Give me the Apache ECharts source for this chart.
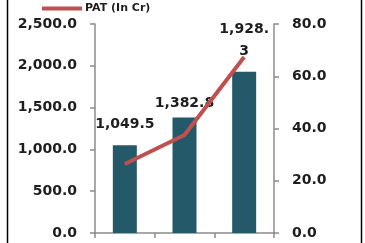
<!DOCTYPE html>
<html><head><meta charset="utf-8">
<script src="https://cdn.jsdelivr.net/npm/echarts@6/dist/echarts.min.js"></script>
<style>html,body{margin:0;padding:0;background:#fff}#c{width:365px;height:243px}</style>
</head><body><div id="c"></div>
<script>
const categories = ['FY1', 'FY2', 'FY3'];
const revenue = [1049.5, 1382.8, 1928.3];
const pat = [26.4, 37.5, 67.4];
const leftTicks = [0, 500, 1000, 1500, 2000, 2500];
const rightTicks = [0, 20, 40, 60, 80];

const chart = echarts.init(document.getElementById('c'), null, {renderer: 'canvas'});
const fmt = v => v.toLocaleString('en-US', {minimumFractionDigits: 1, maximumFractionDigits: 1});
const labelDist = [10, 3, 9];
const font = 'DejaVu Sans';
const tickLabel = {fontFamily: font, fontWeight: 'bold', fontSize: 14, color: '#1e1e1e', margin: 18};
chart.setOption({
  animation: false,
  legend: {
    data: ['PAT (In Cr)'], left: 37, top: -2, itemWidth: 40, itemHeight: 4, itemGap: 4,
    icon: 'rect',
    textStyle: {fontFamily: font, fontWeight: 'bold', fontSize: 11, color: '#1e1e1e', padding: [0,0,0,-2]}
  },
  graphic: [
    {type: 'line', shape: {x1: 7.5, y1: -5, x2: 7.5, y2: 250}, style: {stroke: '#000', lineWidth: 1.5}},
    {type: 'line', shape: {x1: 361.5, y1: -5, x2: 361.5, y2: 250}, style: {stroke: '#000', lineWidth: 1.5}}
  ],
  grid: {left: 95, right: 91, top: 24, bottom: 10, containLabel: false},
  xAxis: {
    type: 'category', data: categories,
    axisLine: {lineStyle: {color: '#8c8c8c', width: 1.5}},
    axisTick: {show: true, length: 5, alignWithLabel: false, lineStyle: {color: '#8c8c8c', width: 1.5}},
    axisLabel: {show: false}
  },
  yAxis: [
    {type: 'value', min: leftTicks[0], max: leftTicks[leftTicks.length-1], interval: 500,
     axisLine: {show: true, lineStyle: {color: '#8c8c8c', width: 1.5}},
     axisTick: {show: true, length: 5, lineStyle: {color: '#8c8c8c', width: 1.5}},
     splitLine: {show: false},
     axisLabel: Object.assign({formatter: v => fmt(v)}, tickLabel)},
    {type: 'value', min: rightTicks[0], max: rightTicks[rightTicks.length-1], interval: 20,
     axisLine: {show: true, lineStyle: {color: '#8c8c8c', width: 1.5}},
     axisTick: {show: true, length: 5, lineStyle: {color: '#8c8c8c', width: 1.5}},
     splitLine: {show: false},
     axisLabel: Object.assign({formatter: v => fmt(v)}, tickLabel)}
  ],
  series: [
    {name: 'Revenue', type: 'bar', barWidth: 24, yAxisIndex: 0,
     itemStyle: {color: '#235968'},
     data: revenue.map((v, i) => ({value: v, label: {distance: labelDist[i]}})),
     label: {show: true, position: 'top', fontFamily: font, fontWeight: 'bold', fontSize: 14,
       color: '#1e1e1e', lineHeight: 22,
       formatter: p => { const s = fmt(p.value); return p.dataIndex === 2 ? s.slice(0, -1) + '\n' + s.slice(-1) : s; }},
     z: 2},
    {name: 'PAT (In Cr)', type: 'line', yAxisIndex: 1, data: pat,
     showSymbol: false, symbol: 'none',
     lineStyle: {color: '#C0504D', width: 4}, itemStyle: {color: '#C0504D'}, z: 3}
  ]
});
</script></body></html>
